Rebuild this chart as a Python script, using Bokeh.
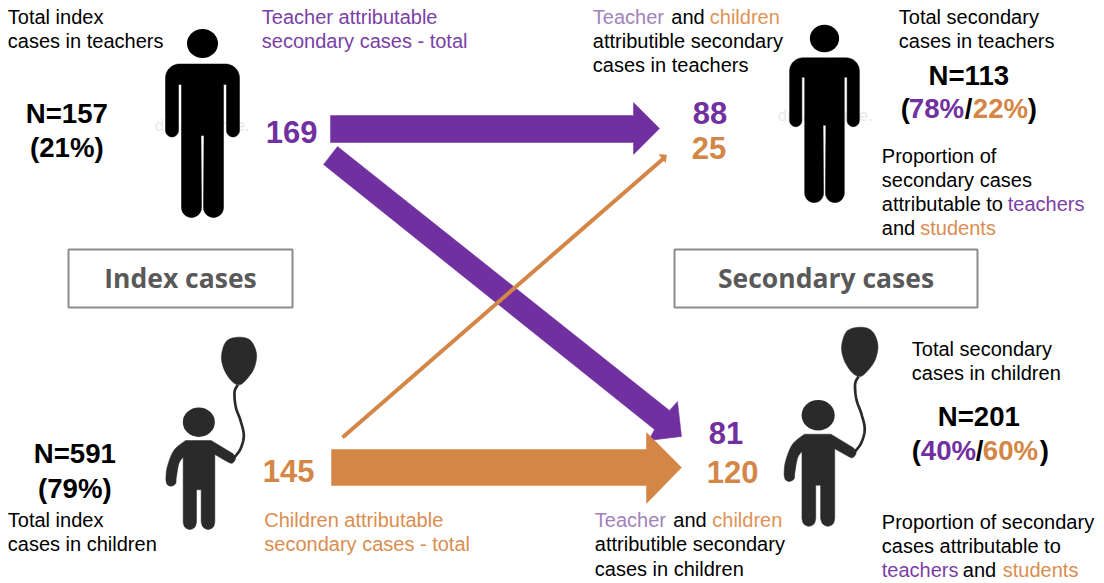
import numpy as np
from bokeh.core.properties import value
from bokeh.embed import file_html
from bokeh.models import Range1d
from bokeh.plotting import figure
from bokeh.resources import INLINE

# ---- values shown in the diagram
index_teachers = ["N=157", "(21%)"]
index_children = ["N=591", "(79%)"]
from_teachers_total = "169"
from_children_total = "145"
teachers_from_teachers = "88"
teachers_from_children = "25"
children_from_teachers = "81"
children_from_children = "120"
secondary_teachers_n = "N=113"
secondary_teachers_pct = ["78%", "22%"]
secondary_children_n = "N=201"
secondary_children_pct = ["40%", "60%"]
box_labels = ["Index cases", "Secondary cases"]

PURPLE, ORANGE = "#7030A0", "#D38645"
PURPLE_TXT, ORANGE_TXT = "#7A3FA6", "#DA8D50"
PURPLE_SOFT, ORANGE_SOFT = "#A282B9", "#DE9357"
BLACK, CHILD = "#000000", "#2A2A2A"
GREY_BOX, GREY_TXT = "#8C8C8C", "#595959"
SANS = "Liberation Sans"
BASE_K = 0.38  # the text box sits this many em below the requested baseline
TEXT_DX = -0.7

p = figure(width=1104, height=583, output_backend="svg", toolbar_location=None,
           x_range=Range1d(0, 1104), y_range=Range1d(583, 0),
           min_border=0, outline_line_color=None, background_fill_color="white")
p.axis.visible = False
p.grid.visible = False


def txt(x, y, s, color=BLACK, size=20, bold=False, align="left", font=SANS):
    p.text([x + TEXT_DX], [y - BASE_K * size], text=[s], text_color=color, text_font=value(font),
           text_font_size=f"{size}px", text_font_style="bold" if bold else "normal",
           text_align=align, text_baseline="alphabetic")


def arc(cx, cy, rx, ry, a0, a1, n=14):
    a = np.radians(np.linspace(a0, a1, n))
    return list(cx + rx * np.cos(a)), list(cy + ry * np.sin(a))


def smooth(pts, n=8, closed=False):
    pts = np.array(pts, float)
    if closed:
        full = np.vstack([pts[-1], pts, pts[0], pts[1]])
    else:
        full = np.vstack([pts[0], pts, pts[-1]])
    out = []
    for i in range(1, len(full) - 2):
        a, b, c, d = full[i - 1], full[i], full[i + 1], full[i + 2]
        for t in np.linspace(0, 1, n, endpoint=False):
            out.append(0.5 * (2 * b + (c - a) * t + (2 * a - 5 * b + 4 * c - d) * t ** 2
                              + (3 * b - a - 3 * c + d) * t ** 3))
    if not closed:
        out.append(pts[-1])
    return np.array(out)


def poly(points, color):
    pts = np.array(points, float)
    p.patch(pts[:, 0], pts[:, 1], fill_color=color, line_color=color, line_width=0.5)


def man(cx, head_y, s):
    # right half of the outline as offsets from the body's axis, then mirrored
    half = [(0, 63.5)]
    for c, y, r, a0, a1 in [(23, 77.5, 14, -90, 0), (30.5, 130, 6.5, 0, 180)]:
        xs, ys = arc(c, y, r, r, a0, a1)
        half += list(zip(xs, ys))
    half += [(24, 84), (21, 84)]
    xs, ys = arc(11, 207, 10, 10, 0, 180)
    half += list(zip(xs, ys))
    half += [(1.5, 135), (0, 135)]
    half = np.array(half)
    left = half[::-1] * [-1, 1]
    o = np.vstack([half, left])
    px = cx + o[:, 0] * s
    py = head_y + (o[:, 1] - 43) * s
    p.patch(px, py, fill_color=BLACK, line_color=BLACK, line_width=0.5)
    p.ellipse([cx], [head_y], width=31 * s, height=29 * s, fill_color=BLACK, line_color=None)


def child(ox, oy, s):
    # outline traced on a 3x crop; ox, oy place it on the page
    fx = lambda v: ox + np.asarray(v, float) / 3 * s
    fy = lambda v: oy + np.asarray(v, float) / 3 * s
    balloon = smooth([(235, 5), (270, 15), (288, 55), (280, 100), (255, 135), (235, 148),
                      (212, 135), (190, 100), (183, 60), (198, 17)], closed=True)
    p.patch(fx(balloon[:, 0]), fy(balloon[:, 1]), fill_color=CHILD, line_color=CHILD, line_width=0.5)
    st = smooth([(232, 148), (222, 170), (226, 215), (240, 255), (250, 300), (240, 340), (222, 365)])
    p.line(fx(st[:, 0]), fy(st[:, 1]), line_color=CHILD, line_width=2.7)
    p.ellipse([float(fx(115))], [float(fy(260))], width=32 * s, height=29.5 * s,
              fill_color=CHILD, line_color=None)
    body = np.vstack([
        [(75, 315), (152, 315)],
        smooth([(218, 355), (225, 370), (215, 383), (203, 380)]),
        [(163, 357)],
        smooth([(163, 560), (158, 575), (143, 582), (128, 575), (122, 560)]),
        [(122, 463), (108, 463)],
        smooth([(108, 560), (103, 575), (88, 582), (73, 575), (68, 560)]),
        smooth([(68, 365), (55, 385), (47, 430)]),
        smooth([(47, 430), (45, 445), (32, 452), (20, 447), (16, 432)]),
        smooth([(16, 432), (20, 395), (40, 345), (75, 315)]),
    ])
    p.patch(fx(body[:, 0]), fy(body[:, 1]), fill_color=CHILD, line_color=CHILD, line_width=0.5)


# ---- faint watermarks, then the figures
txt(155, 131, "dreamstime.", "#E8E8E8", 15, font="DejaVu Sans")
txt(778, 121, "dreamstime.", "#E8E8E8", 15, font="DejaVu Sans")
man(202, 43, 1.0)
man(824, 38, 0.943)
child(160, 335, 1.0)
child(778, 325, 1.035)

# ---- arrows
poly([(330, 115), (633, 115), (633, 102), (659, 128), (633, 154), (633, 142), (330, 142)], PURPLE)
poly([(337, 146), (669, 410), (677, 401), (681, 436), (648, 440), (654, 429), (323, 164)], PURPLE)
p.line([342, 663], [437, 158], line_color=ORANGE, line_width=4)
poly([(666, 154.5), (658.5, 154), (665, 162)], ORANGE)
poly([(331, 449), (646, 449), (646, 432), (681, 467), (646, 503), (646, 485), (331, 485)], ORANGE)

# ---- boxes
for (x0, x1), label in zip([(68, 292), (674, 977)], box_labels):
    p.quad(left=[x0], right=[x1], top=[249], bottom=[307], fill_color=None,
           line_color=GREY_BOX, line_width=2)
    txt((x0 + x1) / 2 + 0.7, 288, label, GREY_TXT, 26.5, True, "center", "Open Sans")

# ---- index column
txt(8, 24, "Total index")
txt(8, 48, "cases in teachers")
txt(67, 123, index_teachers[0], size=27.6, bold=True, align="center")
txt(67, 157, index_teachers[1], size=27.6, bold=True, align="center")
txt(75, 463, index_children[0], size=27.6, bold=True, align="center")
txt(75, 498, index_children[1], size=27.6, bold=True, align="center")
txt(8, 527, "Total index")
txt(8, 551, "cases in children")

# ---- attributable totals
txt(262, 24, "Teacher attributable", PURPLE_TXT)
txt(262, 48, "secondary cases - total", PURPLE_TXT)
txt(266, 143, from_teachers_total, PURPLE, 31, True)
txt(263, 482, from_children_total, ORANGE, 31, True)
txt(264.5, 527, "Children attributable", ORANGE_TXT)
txt(264.5, 551, "secondary cases - total", ORANGE_TXT)

# ---- received in teachers
txt(593, 24, "Teacher", PURPLE_SOFT)
txt(671.5, 24, "and")
txt(710, 24, "children", ORANGE_SOFT)
txt(593, 48, "attributible secondary")
txt(593, 72, "cases in teachers")
txt(693, 124, teachers_from_teachers, PURPLE, 31, True)
txt(692, 159, teachers_from_children, ORANGE, 31, True)

# ---- received in children
txt(709, 444, children_from_teachers, PURPLE, 31, True)
txt(707, 483, children_from_children, ORANGE, 31, True)
txt(595, 527, "Teacher", PURPLE_SOFT)
txt(673.5, 527, "and")
txt(712.5, 527, "children", ORANGE_SOFT)
txt(595, 551, "attributible secondary")
txt(595, 576, "cases in children")

# ---- secondary teachers
txt(899, 24, "Total secondary")
txt(899, 48, "cases in teachers")
txt(969, 85, secondary_teachers_n, size=27.6, bold=True, align="center")
txt(901, 118, "(", size=27.6, bold=True)
txt(909, 118, secondary_teachers_pct[0], PURPLE, 27.6, True)
txt(965, 118, "/", size=27.6, bold=True)
txt(973, 118, secondary_teachers_pct[1], ORANGE, 27.6, True)
txt(1028, 118, ")", size=27.6, bold=True)
txt(882, 163, "Proportion of")
txt(882, 187, "secondary cases")
txt(882, 211, "attributable to")
txt(1008, 211, "teachers", PURPLE_TXT)
txt(882, 235, "and")
txt(920.5, 235, "students", ORANGE_TXT)

# ---- secondary children
txt(912, 356, "Total secondary")
txt(912, 380, "cases in children")
txt(979, 426, secondary_children_n, size=27.6, bold=True, align="center")
txt(912, 460, "(", size=27.6, bold=True)
txt(921, 460, secondary_children_pct[0], PURPLE, 27.6, True)
txt(976, 460, "/", size=27.6, bold=True)
txt(983, 460, secondary_children_pct[1], ORANGE, 27.6, True)
txt(1040, 460, ")", size=27.6, bold=True)
txt(882, 529, "Proportion of secondary")
txt(882, 553, "cases attributable to")
txt(882, 577, "teachers", PURPLE_TXT)
txt(963, 577, "and")
txt(1003, 577, "students", ORANGE_TXT)

open("out.html", "w").write(file_html(p, INLINE))
